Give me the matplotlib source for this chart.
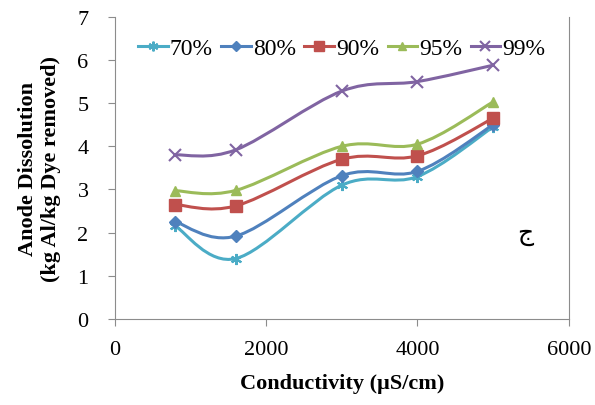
import numpy as np
import matplotlib
matplotlib.use("Agg")
import matplotlib.pyplot as plt
from matplotlib.path import Path
from matplotlib.patches import PathPatch

plt.rcParams['font.family'] = ['Liberation Serif', 'DejaVu Serif']

# data
conductivity = [800, 1600, 3000, 4000, 5000]
labels = ['70%', '80%', '90%', '95%', '99%']
d70 = [2.15, 1.40, 3.10, 3.30, 4.45]
d80 = [2.25, 1.92, 3.32, 3.42, 4.50]
d90 = [2.65, 2.62, 3.70, 3.78, 4.65]
d95 = [2.97, 2.98, 4.00, 4.05, 5.03]
d99 = [3.80, 3.92, 5.28, 5.50, 5.88]
series = [d70, d80, d90, d95, d99]

colors = ['#4BACC6', '#4F81BD', '#C0504D', '#9BBB59', '#8064A2']
markers = [(6, 2, 0), 'D', 's', '^', 'x']
msizes = [8, 6, 8, 7, 8]


def smooth_path(x, y):
    # Catmull-Rom style bezier, like Excel's smoothed line
    p = np.column_stack([x, y]).astype(float)
    n = len(p)
    verts = [p[0]]
    codes = [Path.MOVETO]
    for i in range(n - 1):
        p0 = p[max(i - 1, 0)]
        p1 = p[i]
        p2 = p[i + 1]
        p3 = p[min(i + 2, n - 1)]
        c1 = p1 + (p2 - p0) / 6.0
        c2 = p2 - (p3 - p1) / 6.0
        verts += [c1, c2, p2]
        codes += [Path.CURVE4] * 3
    return Path(verts, codes)


fig = plt.figure(figsize=(5.95, 4.06), dpi=100)
ax = fig.add_axes([0.193, 0.212, 0.763, 0.744])

for vals, c, m, ms, lab in zip(series, colors, markers, msizes, labels):
    ax.add_patch(PathPatch(smooth_path(conductivity, vals), facecolor='none',
                           edgecolor=c, lw=2.2, zorder=2))
    mew = 1.5 if m in ('x',) or isinstance(m, tuple) else 1
    ax.plot(conductivity, vals, linestyle='none', marker=m, ms=ms, color=c,
            mew=mew, zorder=3)
    ax.plot([], [], color=c, lw=2.2, marker=m, ms=ms - 1, mew=mew, label=lab)

ax.set_xlim(0, 6000)
ax.set_ylim(0, 7)
ax.set_xticks([0, 2000, 4000, 6000])
ax.set_yticks(range(0, 8))

ax.spines['top'].set_visible(False)
for s in ['left', 'bottom', 'right']:
    ax.spines[s].set_color('#8C8C8C')
ax.tick_params(axis='both', colors='#8C8C8C', labelcolor='black',
               labelsize=16, length=5, direction='out')
ax.tick_params(axis='y', right=False, pad=14)
ax.tick_params(axis='x', pad=10)

ax.set_xlabel('Conductivity (µS/cm)', fontsize=16, fontweight='bold', labelpad=10)
ax.set_ylabel('Anode Dissolution\n(kg Al/kg Dye removed)', fontsize=16,
              fontweight='bold', labelpad=12)

ax.text(5420, 2.0, 'ج', fontsize=18, family=['DejaVu Sans'],
        ha='center', va='center')

ax.legend(loc='upper center', bbox_to_anchor=(0.5, 0.985), ncol=5, frameon=False,
          fontsize=17, handlelength=1.25, handletextpad=0.1, columnspacing=0.35,
          borderaxespad=0.3)

fig.savefig('out.png', dpi=100)
